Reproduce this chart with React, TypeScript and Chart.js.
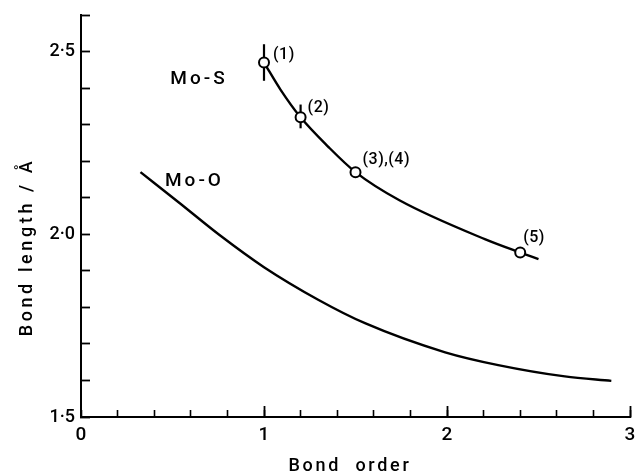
import React, { useEffect, useRef } from 'react';
import { Chart, registerables } from 'chart.js';

Chart.register(...registerables);

// ---- Data ----
const moSPointsX = [1.0, 1.2, 1.5, 2.4];
const moSPointsY = [2.47, 2.32, 2.17, 1.95];
const moSErrLow = [2.42, 2.29, null, null];
const moSErrHigh = [2.52, 2.355, null, null];
const pointLabels = ['(1)', '(2)', '(3),(4)', '(5)'];

const moSCurveX = [1.0, 1.09, 1.2, 1.35, 1.5, 1.74, 2.21, 2.4, 2.5];
const moSCurveY = [2.47, 2.396, 2.32, 2.24, 2.17, 2.093, 1.986, 1.95, 1.932];

const moOCurveX = [0.325, 0.54, 0.757, 1.0, 1.296, 1.555, 1.99, 2.28, 2.644, 2.898];
const moOCurveY = [2.17, 2.085, 1.998, 1.91, 1.821, 1.756, 1.677, 1.642, 1.611, 1.599];

const seriesNames = ['Mo-S', 'Mo-O'];
const seriesLabelX = [0.645, 0.62];
const seriesLabelY = [2.423, 2.146];

const xTitle = 'Bond  order';
const yTitle = 'Bond length / Å';

// label offsets in px relative to the point (style)
const labelOffsets = [
  [9, -8],
  [7, -9],
  [7, -12],
  [3, -15],
];

const FONT = 'Roboto, "DejaVu Sans", sans-serif';

const decorPlugin = {
  id: 'decor',
  beforeDatasetsDraw(chart: any) {
    const ctx = chart.ctx;
    const xs = chart.scales.x;
    const ys = chart.scales.y;
    ctx.save();
    ctx.strokeStyle = '#000';
    ctx.lineWidth = 2.2;
    ctx.lineCap = 'butt';
    for (let i = 0; i < moSPointsX.length; i++) {
      const lo = moSErrLow[i];
      const hi = moSErrHigh[i];
      if (lo == null || hi == null) continue;
      const px = xs.getPixelForValue(moSPointsX[i]);
      ctx.beginPath();
      ctx.moveTo(px, ys.getPixelForValue(lo));
      ctx.lineTo(px, ys.getPixelForValue(hi));
      ctx.stroke();
    }
    ctx.restore();
  },
  afterDraw(chart: any) {
    const ctx = chart.ctx;
    const xs = chart.scales.x;
    const ys = chart.scales.y;
    ctx.save();
    ctx.fillStyle = '#000';
    ctx.strokeStyle = '#000';

    // longer major ticks on the x axis
    ctx.lineWidth = 1.8;
    const axisY = ys.getPixelForValue(1.5);
    for (let v = 1; v <= 3; v++) {
      const px = Math.round(xs.getPixelForValue(v)) + 0.5;
      ctx.beginPath();
      ctx.moveTo(px, axisY);
      ctx.lineTo(px, axisY - 11);
      ctx.stroke();
    }

    // point labels
    ctx.font = `500 16px ${FONT}`;
    (ctx as any).letterSpacing = '0.5px';
    ctx.textAlign = 'left';
    ctx.textBaseline = 'middle';
    for (let i = 0; i < moSPointsX.length; i++) {
      const px = xs.getPixelForValue(moSPointsX[i]);
      const py = ys.getPixelForValue(moSPointsY[i]);
      ctx.fillText(pointLabels[i], px + labelOffsets[i][0], py + labelOffsets[i][1]);
    }

    // series names
    ctx.font = `500 19px ${FONT}`;
    (ctx as any).letterSpacing = '3px';
    ctx.textAlign = 'center';
    for (let i = 0; i < seriesNames.length; i++) {
      ctx.fillText(
        seriesNames[i],
        xs.getPixelForValue(seriesLabelX[i]),
        ys.getPixelForValue(seriesLabelY[i])
      );
    }

    // axis titles
    ctx.font = `500 18px ${FONT}`;
    (ctx as any).letterSpacing = '2.7px';
    ctx.textAlign = 'center';
    ctx.textBaseline = 'alphabetic';
    ctx.fillText(xTitle, 350, 471);

    (ctx as any).letterSpacing = '3.6px';
    ctx.translate(32, 247);
    ctx.rotate(-Math.PI / 2);
    ctx.fillText(yTitle, 0, 0);
    ctx.restore();
  },
};

export default function App() {
  const ref = useRef<HTMLCanvasElement | null>(null);

  useEffect(() => {
    if (!ref.current) return;
    const chart = new Chart(ref.current, {
      type: 'scatter',
      data: {
        datasets: [
          {
            label: 'Mo-S points',
            data: moSPointsX.map((x, i) => ({ x, y: moSPointsY[i] })),
            showLine: false,
            pointRadius: 5,
            pointBorderWidth: 2,
            pointBorderColor: '#000',
            pointBackgroundColor: '#fff',
            order: 0,
          },
          {
            label: 'Mo-S',
            data: moSCurveX.map((x, i) => ({ x, y: moSCurveY[i] })),
            showLine: true,
            pointRadius: 0,
            borderColor: '#000',
            borderWidth: 2.4,
            cubicInterpolationMode: 'monotone',
            order: 1,
          },
          {
            label: 'Mo-O',
            data: moOCurveX.map((x, i) => ({ x, y: moOCurveY[i] })),
            showLine: true,
            pointRadius: 0,
            borderColor: '#000',
            borderWidth: 2.4,
            cubicInterpolationMode: 'monotone',
            order: 1,
          },
        ],
      },
      options: {
        animation: false,
        responsive: false,
        events: [],
        layout: { padding: { top: 15, right: 5, left: 0, bottom: 0 } },
        plugins: {
          legend: { display: false },
          tooltip: { enabled: false },
        },
        scales: {
          x: {
            type: 'linear',
            position: 'bottom',
            min: 0,
            max: 3,
            afterFit(scale: any) {
              scale.height = 55;
              scale.paddingLeft = 0;
              scale.paddingRight = 0;
            },
            border: { display: true, color: '#000', width: 2 },
            grid: {
              drawOnChartArea: false,
              drawTicks: true,
              tickLength: -7,
              tickWidth: 1.6,
              tickColor: '#000',
            },
            ticks: {
              stepSize: 0.2,
              autoSkip: false,
              maxRotation: 0,
              padding: 14,
              color: '#000',
              font: { family: FONT, size: 19, weight: '500' },
              callback: (v: any) => {
                const n = Number(v);
                return Math.abs(n - Math.round(n)) < 1e-6 ? String(Math.round(n)) : '';
              },
            },
          },
          y: {
            type: 'linear',
            position: 'left',
            min: 1.5,
            max: 2.6,
            afterFit(scale: any) {
              scale.width = 81;
              scale.paddingTop = 0;
              scale.paddingBottom = 0;
            },
            border: { display: true, color: '#000', width: 2 },
            grid: {
              drawOnChartArea: false,
              drawTicks: true,
              tickLength: -9,
              tickWidth: 1.8,
              tickColor: '#000',
            },
            ticks: {
              stepSize: 0.1,
              autoSkip: false,
              padding: 15,
              color: '#000',
              font: { family: FONT, size: 18, weight: '500' },
              callback: (v: any) => {
                const t = Math.round(Number(v) * 10);
                return t % 5 === 0 ? (t / 10).toFixed(1).replace('.', '·') : '';
              },
            },
          },
        },
      },
      plugins: [decorPlugin],
    } as any);
    return () => chart.destroy();
  }, []);

  return (
    <div
      style={{
        position: 'fixed',
        left: 0,
        top: 0,
        width: 637,
        height: 472,
        background: '#fff',
      }}
    >
      <canvas ref={ref} width={637} height={472} style={{ display: 'block' }} />
    </div>
  );
}
